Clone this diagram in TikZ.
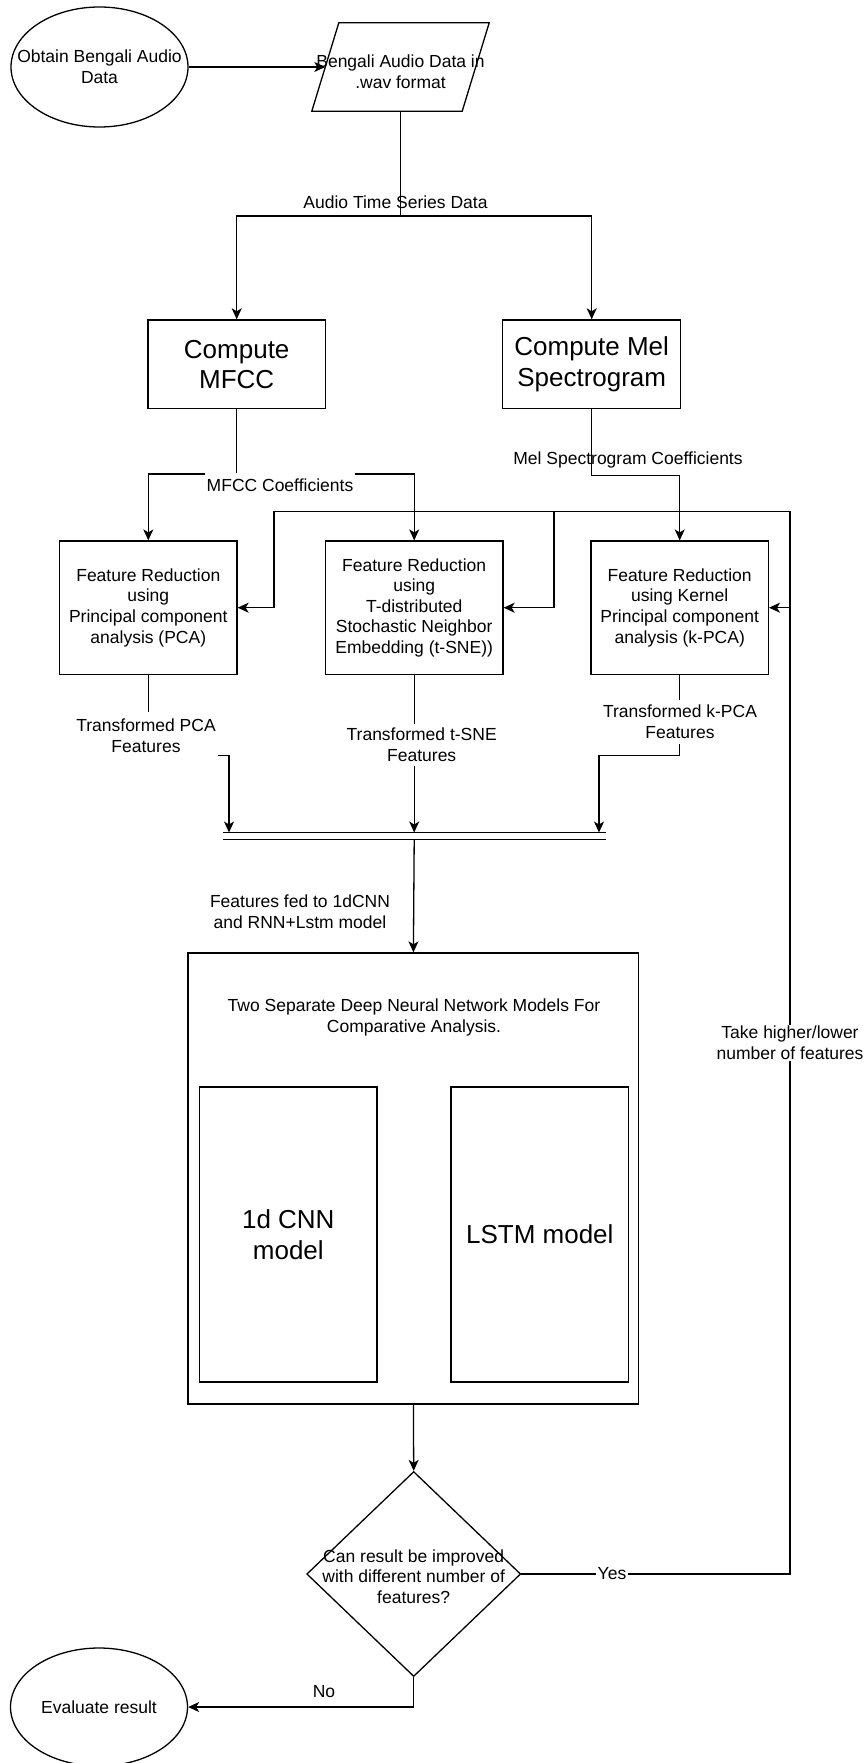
\documentclass[tikz,border=0pt]{standalone}
\usepackage{fontspec}
\setmainfont{Liberation Sans}
\usetikzlibrary{shapes.geometric,arrows.meta}
\begin{document}
\begin{tikzpicture}[x=1pt,y=-1pt]
\tikzset{
  ln/.style={line width=1.3pt, line join=miter},
  arr/.style={ln, -{Stealth[length=11pt,width=10pt,inset=3pt]}},
  txt/.style={font=\fontsize{17.5}{20.6}\selectfont, align=center, inner sep=0pt},
  bigtxt/.style={font=\fontsize{26}{30.5}\selectfont, align=center, inner sep=0pt},
  box/.style={draw, rectangle, line width=1.3pt, txt},
  wlab/.style={txt, fill=white, inner xsep=2pt, inner ysep=1pt},
  plab/.style={txt},
}
\useasboundingbox (0,0) rectangle (865,1763);
\fill[white] (0,0) rectangle (865,1763);

% nodes
\node[ellipse, draw, ln, minimum width=177pt, minimum height=120pt, inner sep=0pt,
  label={[txt]center:{Obtain Bengali Audio\\Data}}] (obtain) at (99.5,67) {};
\node[rectangle, minimum width=177pt, minimum height=88pt, inner sep=0pt,
  label={[txt, yshift=-5pt]center:{Bengali Audio Data in\\.wav format}}] (wav) at (400.5,67) {};
\draw[ln] (wav.south west) -- ([xshift=27pt]wav.north west) -- (wav.north east) -- ([xshift=-27pt]wav.south east) -- cycle;
\coordinate (wavin) at ([xshift=13.5pt]wav.west);

\node[box, bigtxt, minimum width=177.5pt, minimum height=88.7pt] (mfcc) at (236.7,364.3) {Compute\\MFCC};
\node[box, bigtxt, minimum width=178pt, minimum height=88.7pt] (mel) at (591.7,364.3) {Compute Mel\\Spectrogram};

\node[box, minimum width=177.4pt, minimum height=133.3pt] (pca) at (148.3,607.7) {Feature Reduction\\using\\Principal component\\analysis (PCA)};
\node[box, minimum width=177.6pt, minimum height=133.3pt] (tsne) at (414.2,607.7) {Feature Reduction\\using\\T-distributed\\Stochastic Neighbor\\Embedding (t-SNE))};
\node[box, minimum width=177.3pt, minimum height=133.3pt] (kpca) at (679.7,607.7) {Feature Reduction\\using Kernel\\Principal component\\analysis (k-PCA)};

\node[minimum width=383pt, minimum height=6.6pt, inner sep=0pt] (join) at (414.2,836) {};

\node[box, minimum width=450.8pt, minimum height=451pt] (big) at (413.4,1178.5) {};
\node[txt] (title) at (414,1017.5) {Two Separate Deep Neural Network Models For\\Comparative Analysis.};
\node[box, bigtxt, minimum width=177.4pt, minimum height=295pt] (cnn) at (288.3,1234.5) {1d CNN\\model};
\node[box, bigtxt, minimum width=177.6pt, minimum height=295pt] (lstm) at (539.8,1234.5) {LSTM model};

\node[diamond, draw, ln, minimum width=214pt, minimum height=205pt, inner sep=0pt,
  label={[txt, yshift=-2.7pt]center:{Can result be improved\\with different number of\\features?}}] (dec) at (413.7,1574) {};
\node[ellipse, draw, ln, minimum width=177pt, minimum height=118pt, inner sep=0pt,
  label={[txt]center:{Evaluate result}}] (eval) at (99,1707) {};

% coordinates
\coordinate (split1) at (400.5,216);
\coordinate (split2) at (236.7,474);
\coordinate (ltr) at (790,511.7);
\coordinate (ltl) at (274,511.7);
\coordinate (ltm) at (554,511.7);

% connectors
\draw[arr] (obtain.east) -- (wavin);
\draw[arr] (wav.south) -- (split1) -| (mfcc.north);
\draw[arr] (split1) -| (mel.north);
\draw[arr] (mfcc.south) -- (split2) -| (pca.north);
\draw[arr] (split2) -| (tsne.north);
\draw[arr] (mel.south) -- ++(0,66.3) -| (kpca.north);

\draw[arr] (pca.south) -- ++(0,80.7) -| ([xshift=-185.2pt]join.north);
\draw[arr] (tsne.south) -- (join.north);
\draw[arr] (kpca.south) -- ++(0,80.7) -| ([xshift=184.8pt]join.north);
\draw[ln] (join.north west) -- (join.north east);
\draw[ln] (join.south west) -- (join.south east);
\draw[arr] (join.south) -- (big.north);

\draw[arr] (big.south) -- (dec.north);
\draw[arr] (dec.south) |- (eval.east);
\draw[arr] (dec.east) -| (ltr) -- (ltl) |- (pca.east);
\draw[arr] (ltm) |- (tsne.east);
\draw[arr] (ltr |- kpca.east) -- (kpca.east);

% labels
\node[plab] (l1) at (395.5,202.7) {Audio Time Series Data};
\node[wlab, minimum height=26pt] (l2) at (280,485.5) {MFCC Coefficients};
\node[plab] (l3) at (628,460) {Mel Spectrogram Coefficients};
\node[wlab, minimum height=48pt] (l4) at (146,736) {Transformed PCA\\Features};
\node[wlab, minimum height=42pt] (l5) at (421.7,744.5) {Transformed t-SNE\\Features};
\node[wlab, minimum height=44pt] (l6) at (680,722) {Transformed k-PCA\\Features};
\node[plab] (l7) at (300,912) {Features fed to 1dCNN\\and RNN+Lstm model};
\node[wlab] (l8) at (790,1043) {Take higher/lower\\number of features};
\node[wlab] (l9) at (612,1574) {Yes};
\node[plab] (l10) at (324,1691.7) {No};
\end{tikzpicture}
\end{document}
